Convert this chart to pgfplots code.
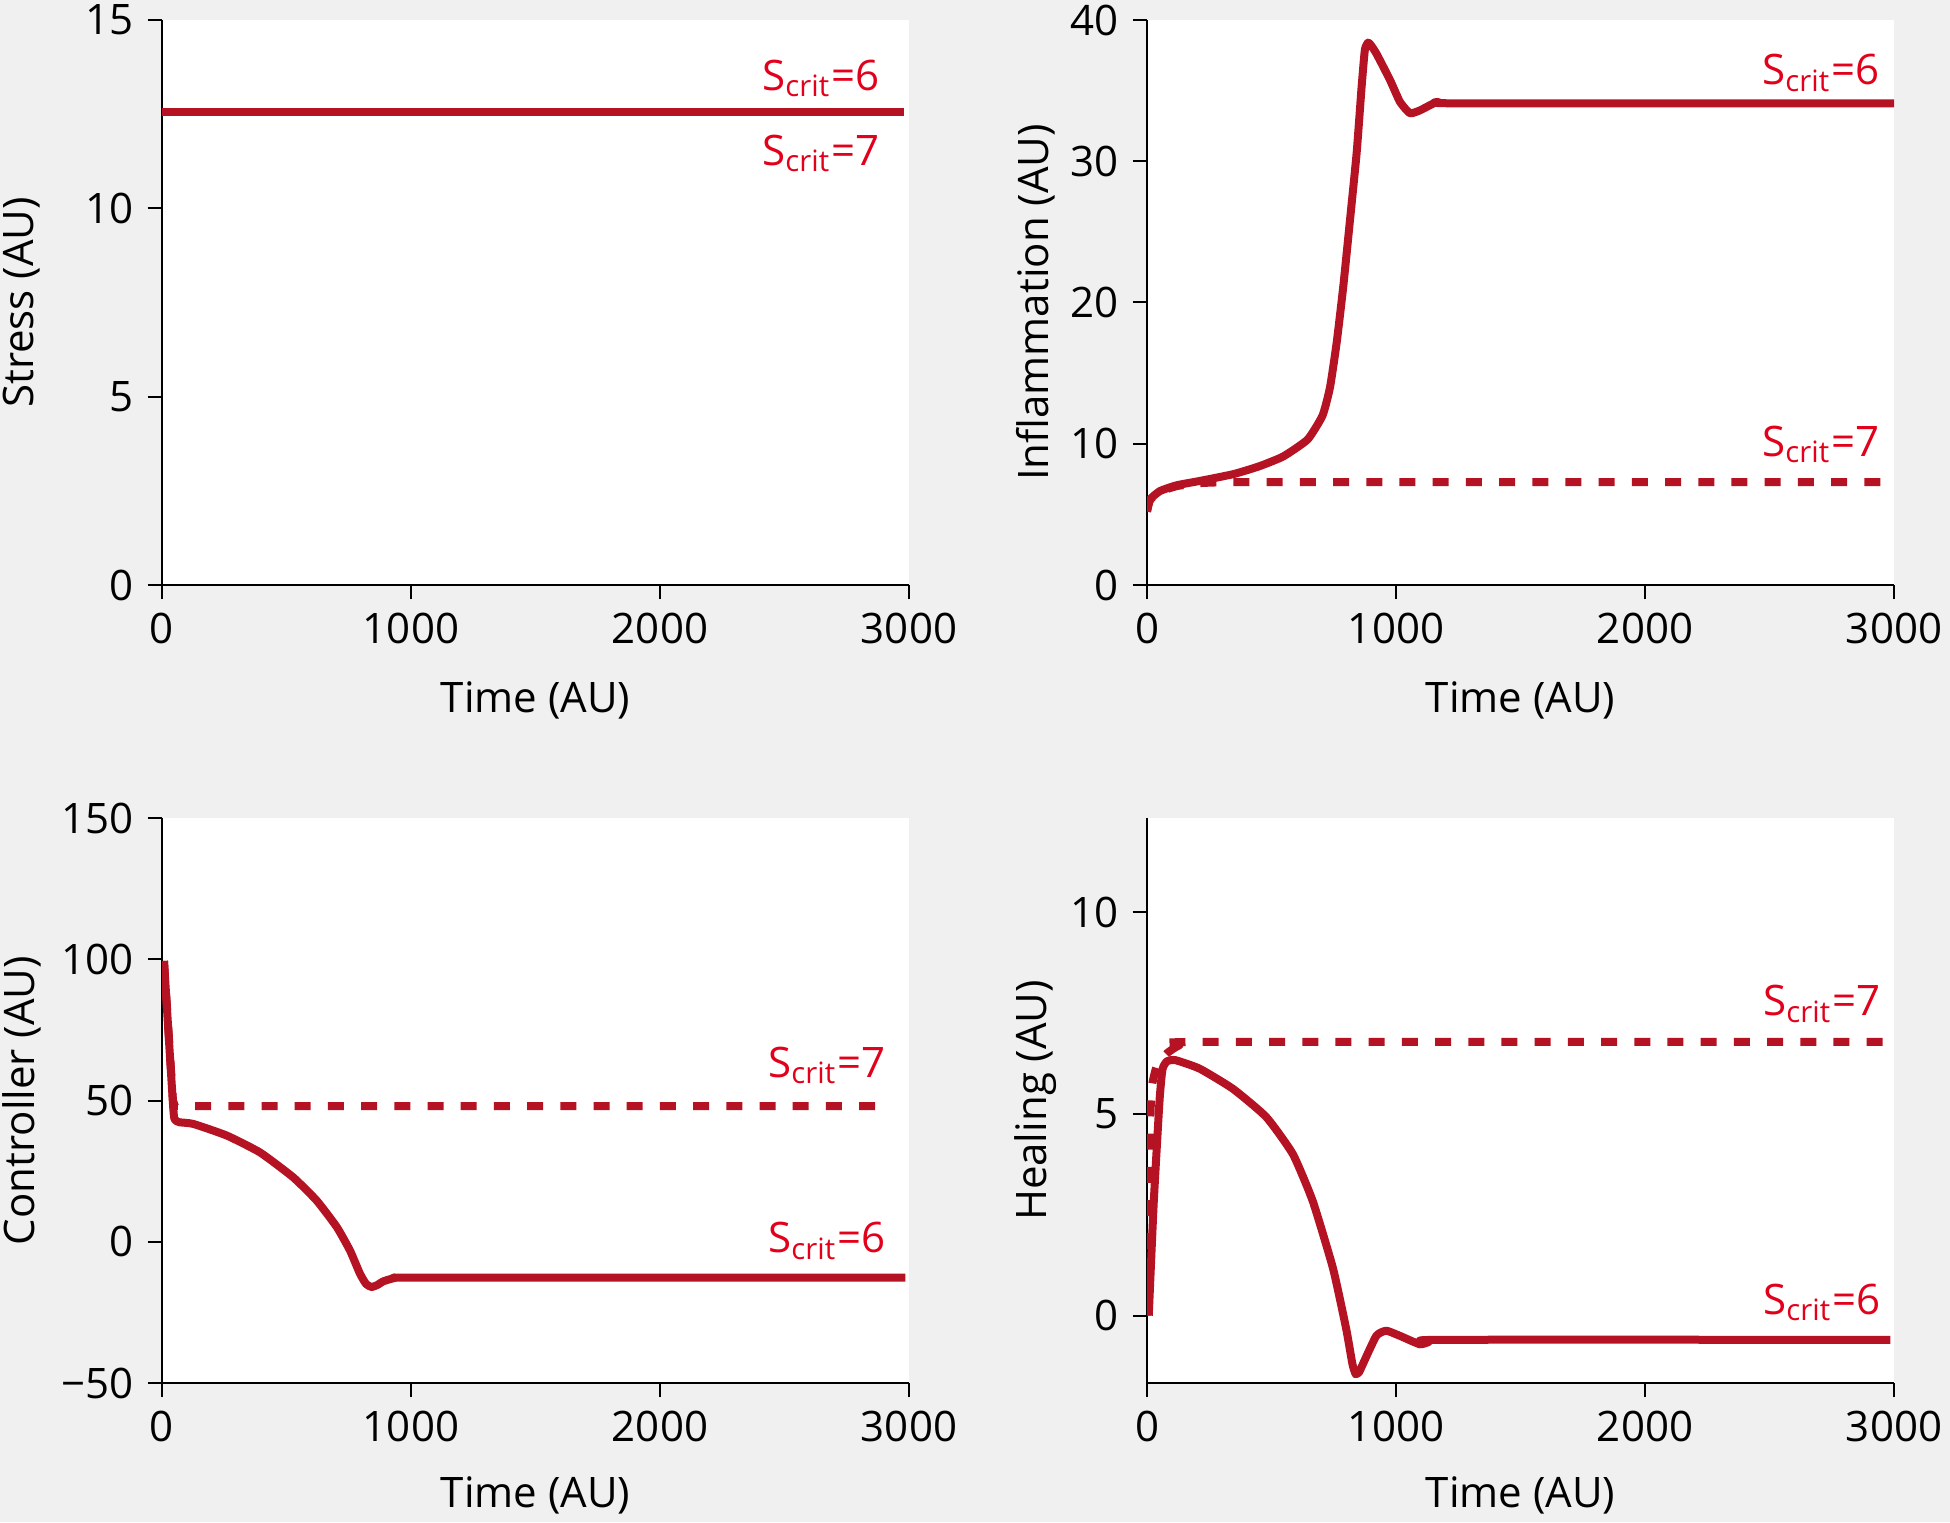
\documentclass[border=0pt]{standalone}
\usepackage{pgfplots}
\pgfplotsset{compat=1.18}
\usepackage{fontspec}
\setmainfont{Open Sans}
\definecolor{bg}{RGB}{240,240,240}
\definecolor{curve}{RGB}{181,19,35}
\definecolor{lab}{RGB}{226,0,26}
\newcommand{\fs}{\fontsize{10.5}{12}\selectfont}
\tikzset{
  ann/.style={lab, anchor=base east, inner sep=0pt, font=\fs},
  cv/.style={curve, line width=2pt, line join=round, solid, mark=none, smooth, tension=0.3},
  dashedc/.style={cv, dash pattern=on 4pt off 4.3pt},
}
\pgfplotsset{
  panel/.style={
    scale only axis, width=186.75pt, height=141.25pt,
    anchor=south west,
    xmin=0, xmax=3000,
    axis x line*=bottom, axis y line*=left,
    axis line style={-, line width=0.5pt, black},
    tick align=outside,
    major tick length=3.6pt,
    tick style={black, line width=0.5pt},
    xtick={0,1000,2000,3000},
    xticklabels={0,1000,2000,3000},
    tick label style={font=\fs},
    label style={font=\fs},
    axis background/.style={fill=white},
    xlabel={Time (AU)},
  },
  leftp/.style={ylabel style={at={(axis description cs:-0.1874,0.5)}, anchor=center}},
  rightp/.style={ylabel style={at={(axis description cs:-0.1486,0.5)}, anchor=center}},
  topp/.style={xlabel style={at={(axis description cs:0.5,-0.2035)}, anchor=center}},
  botp/.style={xlabel style={at={(axis description cs:0.5,-0.1996)}, anchor=center}},
}
\begin{document}
\begin{tikzpicture}
\fill[bg] (0pt,0pt) rectangle (487.5pt,380.5pt);

% Stress
\begin{axis}[panel, leftp, topp, at={(40.5pt,234.25pt)},
  ymin=0, ymax=15, ytick={0,5,10,15}, yticklabels={0,5,10,15},
  ylabel={Stress (AU)}]
\addplot[dashedc] coordinates {(0,12.57) (2980,12.57)};
\addplot[cv] coordinates {(0,12.57) (2980,12.57)};
\node[ann] at (axis cs:2884,13.14) {S\textsubscript{crit}=6};
\node[ann] at (axis cs:2884,11.15) {S\textsubscript{crit}=7};
\end{axis}

% Inflammation
\begin{axis}[panel, rightp, topp, at={(286.75pt,234.25pt)},
  ymin=0, ymax=40, ytick={0,10,20,30,40}, yticklabels={0,10,20,30,40},
  ylabel={Inflammation (AU)}]
\addplot[dashedc] coordinates {(0,5.2) (12,6.0) (50,6.6) (120,7.0) (200,7.2) (300,7.27) (500,7.28) (2960,7.28)};
\addplot[cv] coordinates {(0,5.2) (12,6.05) (52,6.65) (119,7.06) (213,7.37) (347,7.85) (450,8.4) (547,9.1) (645,10.3) (705,12.0) (735,14.0) (762,17.2) (788,21.1) (815,25.8) (842,30.6) (862,35.3) (875,37.9) (888,38.4) (900,38.2) (922,37.6) (976,35.75) (1016,34.2) (1056,33.4) (1096,33.6) (1140,34.0) (1170,34.2) (1244,34.1) (3000,34.1)};
\node[ann] at (axis cs:2944,35.4) {S\textsubscript{crit}=6};
\node[ann] at (axis cs:2944,9.13) {S\textsubscript{crit}=7};
\end{axis}

% Controller
\begin{axis}[panel, leftp, botp, at={(40.5pt,34.75pt)},
  ymin=-50, ymax=150, ytick={-50,0,50,100,150}, yticklabels={−50,0,50,100,150},
  ylabel={Controller (AU)}]
\addplot[dashedc, sharp plot] coordinates {(8,99.4) (44,50) (52,48) (2930,48)};
\addplot[cv] coordinates {(8,99.4) (45,47.6) (52,43.2) (70,42.3) (126,41.7) (260,37.6) (394,31.6) (527,22.8) (621,14.6) (702,5.2) (755,-3.1) (795,-11.3) (820,-15.0) (842,-16.0) (865,-15.3) (889,-14.0) (942,-12.7) (1036,-12.7) (2985,-12.7)};
\node[ann] at (axis cs:2908,58.2) {S\textsubscript{crit}=7};
\node[ann] at (axis cs:2908,-3.8) {S\textsubscript{crit}=6};
\end{axis}

% Healing
\begin{axis}[panel, rightp, botp, at={(286.75pt,34.75pt)},
  ymin=-1.67, ymax=12.33, ytick={0,5,10}, yticklabels={0,5,10},
  ylabel={Healing (AU)}]
\addplot[dashedc] coordinates {(0,0) (10,4.0) (18,5.6) (40,6.2) (80,6.5) (130,6.7) (200,6.78) (2985,6.78)};
\addplot[cv] coordinates {(7,0) (27,2.8) (50,5.3) (62,6.1) (80,6.3) (114,6.33) (211,6.12) (345,5.62) (479,4.92) (586,4.0) (666,2.83) (747,1.17) (800,-0.33) (825,-1.2) (838,-1.45) (852,-1.4) (867,-1.2) (921,-0.5) (961,-0.375) (1015,-0.5) (1095,-0.71) (1130,-0.66) (1176,-0.6) (2985,-0.6)};
\node[ann] at (axis cs:2948,7.43) {S\textsubscript{crit}=7};
\node[ann] at (axis cs:2948,0.03) {S\textsubscript{crit}=6};
\end{axis}

\pgfresetboundingbox
\path[use as bounding box] (0pt,0pt) rectangle (487.5pt,380.5pt);
\end{tikzpicture}
\end{document}
